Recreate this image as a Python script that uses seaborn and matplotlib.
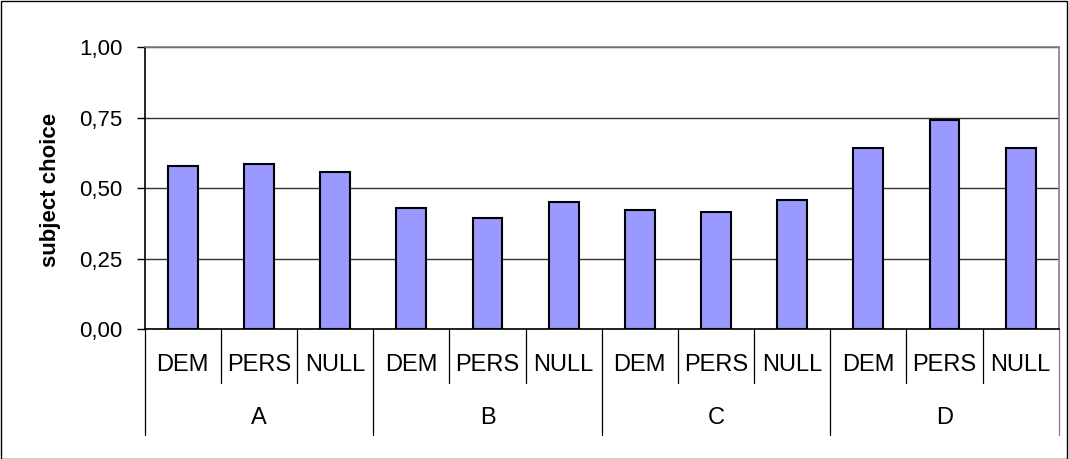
import pandas as pd
import matplotlib
matplotlib.use('Agg')
import matplotlib.pyplot as plt
import matplotlib.transforms as mtransforms
from matplotlib.patches import Rectangle
import seaborn as sns

# datos
grupos = ['A', 'B', 'C', 'D']
condiciones = ['DEM', 'PERS', 'NULL']
valores = [0.580, 0.587, 0.559,
           0.431, 0.396, 0.452,
           0.424, 0.417, 0.460,
           0.644, 0.743, 0.644]
yticks = [0.0, 0.25, 0.5, 0.75, 1.0]
ytick_labels = ['0,00', '0,25', '0,50', '0,75', '1,00']

claves = [g + '_' + c for g in grupos for c in condiciones]
df = pd.DataFrame({'clave': claves, 'valor': valores})

sns.set_style('white')
plt.rcParams['font.family'] = ['Liberation Sans', 'DejaVu Sans']
plt.rcParams['text.color'] = 'black'
plt.rcParams['ytick.color'] = 'black'
plt.rcParams['ytick.labelcolor'] = 'black'

fig = plt.figure(figsize=(10.69, 4.59), dpi=100)
ax = fig.add_axes([0.1354, 0.2826, 0.855, 0.6144])

sns.barplot(data=df, x='clave', y='valor', order=claves, color='#9999FF',
            saturation=1, width=0.39, edgecolor='black', linewidth=1.5, ax=ax, zorder=3)

ax.set_ylim(0, 1)
ax.set_xlim(-0.5, len(claves) - 0.5)
ax.set_yticks(yticks)
ax.set_yticklabels(ytick_labels, fontsize=16, color='black')
ax.yaxis.grid(True, color='#333333', linewidth=1)
ax.set_axisbelow(True)
ax.tick_params(axis='y', left=True, length=6, width=1, color='black', pad=10)
ax.set_xticks([])
ax.set_xlabel('')
ax.set_ylabel('')
fig.text(51 / 1069, 1 - 190 / 459, 'subject choice', rotation=90, ha='center',
         va='center', fontsize=16, fontweight='bold', color='black')

for lado in ['left', 'bottom']:
    ax.spines[lado].set_color('black')
    ax.spines[lado].set_linewidth(1.2)
for lado in ['top', 'right']:
    ax.spines[lado].set_color('#808080')
    ax.spines[lado].set_linewidth(1.2)

# etiquetas jerarquicas del eje x
trans = mtransforms.blended_transform_factory(ax.transData, ax.transAxes)
for i, clave in enumerate(claves):
    ax.text(i, -0.128, clave.split('_')[1], transform=trans, ha='center', va='center',
            fontsize=17, color='black')
for i in range(len(claves) + 1):
    fondo = -0.376 if i % 3 == 0 else -0.191
    color = '#808080' if i == len(claves) else 'black'
    ax.plot([i - 0.5, i - 0.5], [0, fondo], transform=trans, color=color,
            linewidth=0.9, clip_on=False)
for j, g in enumerate(grupos):
    ax.text(j * 3 + 1, -0.316, g, transform=trans, ha='center', va='center',
            fontsize=17, color='black')

fig.add_artist(Rectangle((0.0005, 0.001), 0.998, 0.997, transform=fig.transFigure,
                         fill=False, edgecolor='black', linewidth=1))

plt.savefig('out.png', dpi=100)
